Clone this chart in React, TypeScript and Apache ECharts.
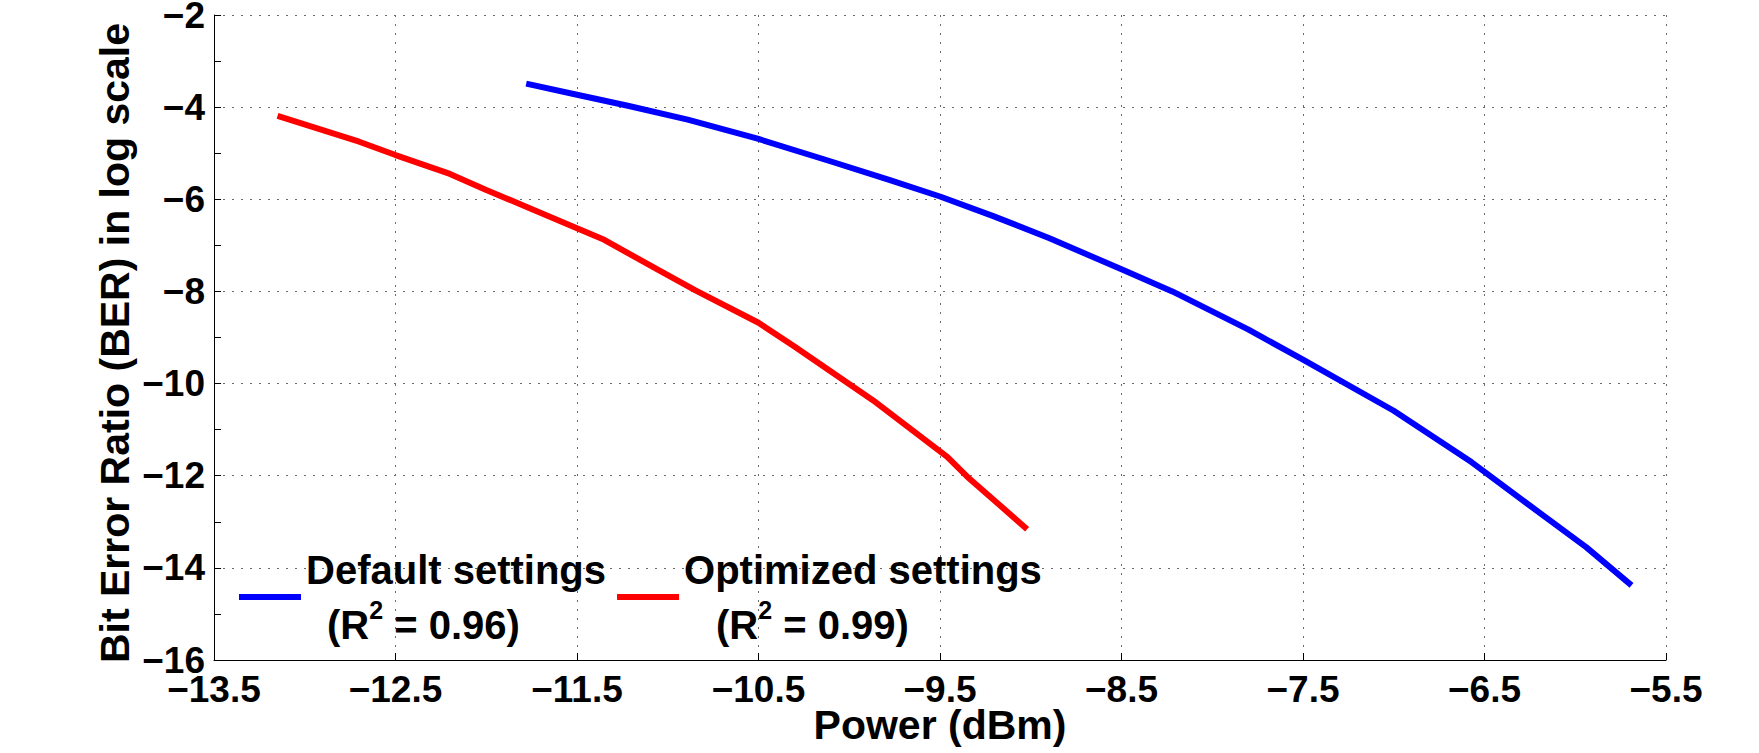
import React, { useEffect, useRef } from "react";
import * as echarts from "echarts";

// Received optical power (dBm) and log10(BER) for the two receiver configurations
const powerDefault = [-11.78, -11.5, -11.22, -10.89, -10.5, -10.1, -9.78, -9.5, -9.21, -8.9, -8.5, -8.22, -7.8, -7.5, -7.0, -6.57, -6.26, -5.94, -5.69];
const berDefault = [-3.49, -3.73, -3.97, -4.27, -4.69, -5.18, -5.58, -5.94, -6.36, -6.84, -7.52, -8.0, -8.83, -9.48, -10.59, -11.71, -12.62, -13.55, -14.38];

const powerOptimized = [-13.15, -12.7, -12.5, -12.2, -12.0, -11.78, -11.5, -11.35, -11.05, -10.85, -10.5, -10.3, -9.87, -9.46, -9.35, -9.02];
const berOptimized = [-4.19, -4.75, -5.04, -5.45, -5.8, -6.16, -6.63, -6.88, -7.54, -7.97, -8.68, -9.2, -10.36, -11.59, -12.02, -13.16];

const seriesNames = ["Default settings", "Optimized settings"];
const fitQuality = ["0.96", "0.99"];

const xTicks = { min: -13.5, max: -5.5, step: 1 };
const yTicks = { min: -16, max: -2, step: 2 };

const FONT = "'Liberation Sans', Arial, Helvetica, sans-serif";

const fmt = (v: number, digits: number) =>
  (v < 0 ? "\u2212" : "") + Math.abs(v).toFixed(digits);

const tickText = { fontFamily: FONT, fontWeight: "bold", color: "#000", fontSize: 37, lineHeight: 26 };

export default function App() {
  const ref = useRef<HTMLDivElement>(null);

  useEffect(() => {
    if (!ref.current) return;
    const chart = echarts.init(ref.current, undefined, { renderer: "svg" });

    const zip = (xs: number[], ys: number[]) => xs.map((x, i) => [x, ys[i]]);

    const gridLine = { show: true, lineStyle: { color: "#6a6a6a", width: 1, type: [2, 7] } };

    chart.setOption({
      animation: false,
      backgroundColor: "#ffffff",
      textStyle: { fontFamily: FONT, fontWeight: "bold", color: "#000" },
      grid: {
        left: 214,
        right: 93,
        top: 15,
        bottom: 93,
        containLabel: false,
        outerBoundsMode: "none",
      },
      xAxis: {
        type: "value",
        min: xTicks.min,
        max: xTicks.max,
        interval: xTicks.step,
        name: "Power (dBm)",
        nameLocation: "middle",
        nameGap: 44,
        nameMoveOverlap: false,
        nameTextStyle: { fontSize: 41, fontWeight: "bold", color: "#000", fontFamily: FONT },
        axisLine: { onZero: false, lineStyle: { color: "#000", width: 1 } },
        axisTick: { inside: true, length: 7, lineStyle: { color: "#000" } },
        axisLabel: {
          ...tickText,
          margin: 16,
          hideOverlap: false,
          formatter: (v: number) => `{a|${fmt(v, 1)}}`,
          rich: { a: tickText },
        },
        splitLine: gridLine,
      },
      yAxis: {
        type: "value",
        min: yTicks.min,
        max: yTicks.max,
        interval: yTicks.step,
        name: "Bit Error Ratio (BER) in log scale",
        nameLocation: "middle",
        nameGap: 79,
        nameRotate: 90,
        nameMoveOverlap: false,
        nameTextStyle: {
          fontSize: 41,
          fontWeight: "bold",
          color: "#000",
          fontFamily: FONT,
          padding: [0, 11, 0, 0],
        },
        axisLine: { onZero: false, lineStyle: { color: "#000", width: 1 } },
        axisTick: { inside: true, length: 7, lineStyle: { color: "#000" } },
        minorTick: { show: true, splitNumber: 2, length: 7, lineStyle: { color: "#000" } },
        axisLabel: {
          ...tickText,
          margin: 9,
          hideOverlap: false,
          formatter: (v: number) => `{a|${fmt(v, 0)}}`,
          rich: { a: tickText },
        },
        splitLine: gridLine,
      },
      legend: {
        data: seriesNames,
        left: 234,
        top: 537,
        orient: "horizontal",
        icon: "rect",
        itemWidth: 62,
        itemHeight: 6,
        itemGap: 11,
        selectedMode: false,
        formatter: (name: string) => {
          const i = seriesNames.indexOf(name);
          const ind = i === 0 ? "ind0" : "ind1";
          return `{t|${name}}\n{${ind}|}{t|(R}{sup|2}{t| = ${fitQuality[i]})}`;
        },
        textStyle: {
          fontFamily: FONT,
          fontWeight: "bold",
          color: "#000",
          fontSize: 40,
          lineHeight: 55,
          rich: {
            t: { fontFamily: FONT, fontWeight: "bold", color: "#000", fontSize: 40, lineHeight: 55 },
            sup: { fontFamily: FONT, fontWeight: "bold", color: "#000", fontSize: 25, lineHeight: 22, verticalAlign: "top" },
            ind0: { width: 21, lineHeight: 55 },
            ind1: { width: 32, lineHeight: 55 },
          },
        },
      },
      series: [
        {
          name: seriesNames[0],
          type: "line",
          data: zip(powerDefault, berDefault),
          symbol: "none",
          lineStyle: { color: "#0000ff", width: 6 },
          itemStyle: { color: "#0000ff" },
        },
        {
          name: seriesNames[1],
          type: "line",
          data: zip(powerOptimized, berOptimized),
          symbol: "none",
          lineStyle: { color: "#ff0000", width: 6 },
          itemStyle: { color: "#ff0000" },
        },
      ],
    });

    return () => chart.dispose();
  }, []);

  return (
    <div
      ref={ref}
      style={{ position: "absolute", left: 0, top: 0, width: 1759, height: 753, background: "#fff" }}
    />
  );
}
